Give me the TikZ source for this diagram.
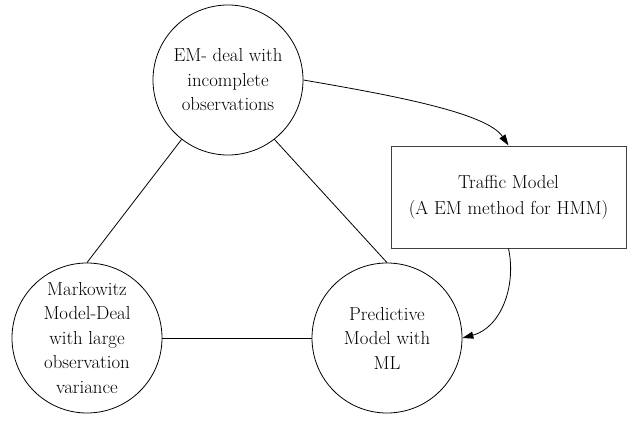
\documentclass[tikz,border=0pt]{standalone}
\usetikzlibrary{arrows.meta}
\begin{document}
\begin{tikzpicture}[x=1pt,y=-1pt,
  bubble/.style={draw=black,line width=0.8pt,circle,minimum size=150pt,inner sep=0pt,align=center,
    font=\fontsize{18.8}{24.5}\selectfont},
  boxnode/.style={draw=black!75,line width=1pt,rectangle,minimum width=235pt,minimum height=102pt,inner sep=0pt,align=center,
    font=\fontsize{18.8}{26}\selectfont},
  link/.style={draw=black,line width=0.8pt},
  flow/.style={draw=black,line width=0.8pt,-{Triangle[length=11pt,width=7pt]}}]
\useasboundingbox (0,0) rectangle (631,420);
\node[bubble] (em) at (228,80) {EM- deal with\\incomplete\\observations};
\node[bubble] (mk) at (87,338) {Markowitz\\Model-Deal\\with large\\observation\\variance};
\node[bubble] (pm) at (387,338) {Predictive\\Model with\\ML};
\node[boxnode] (tm) at (508.5,197) {Traffic Model\\(A EM method for HMM)};
\draw[link] (em.-128) -- (mk.north);
\draw[link] (em.-52) -- (pm.north);
\draw[link] (mk.east) -- (pm.west);
\draw[flow] (em.east) .. controls +(87,15) and +(-22,-33) .. (tm.north);
\draw[flow] (tm.south) to[out=-78,in=15] (pm.east);
\end{tikzpicture}
\end{document}
